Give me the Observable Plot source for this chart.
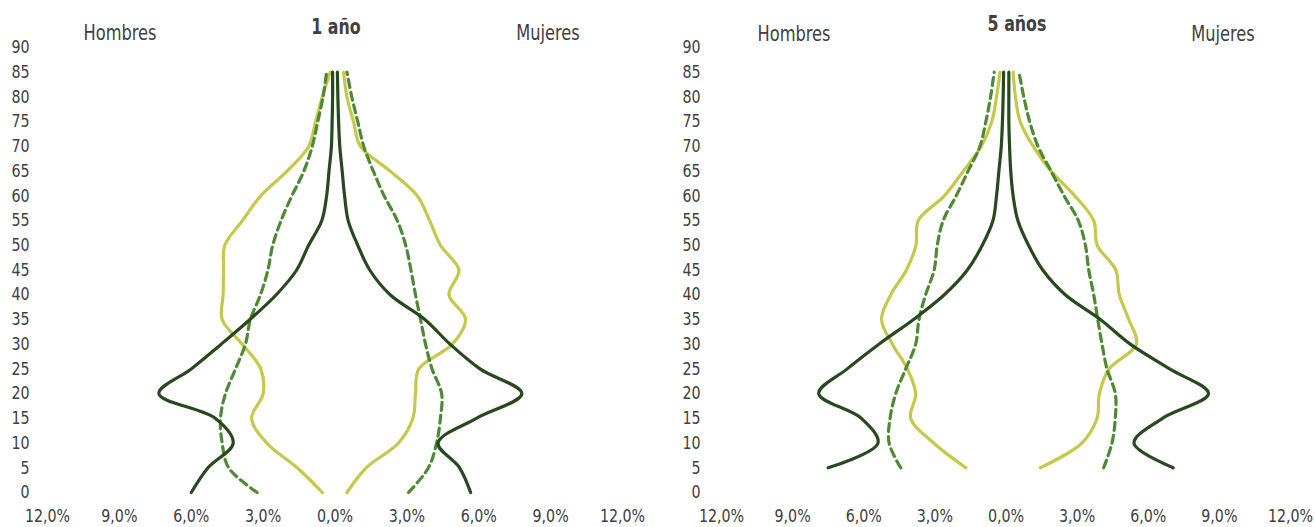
<!DOCTYPE html>
<html>
<head>
<meta charset="utf-8">
<script src="https://cdn.jsdelivr.net/npm/d3@7"></script>
<script src="https://cdn.jsdelivr.net/npm/@observablehq/plot@0.6"></script>
<style>
  html, body { margin: 0; padding: 0; background: #ffffff; }
  #wrap { position: relative; width: 1315px; height: 527px; overflow: hidden;
          font-family: "Liberation Sans Narrow", "DejaVu Sans Condensed", "Roboto", sans-serif; color: #404040; }
  .panel { position: absolute; top: 0; }
  .lbl { position: absolute; transform: translate(-50%, -50%) scaleX(0.82); white-space: nowrap; font-size: 22px; color: #404040; }
  .ttl { font-weight: bold; font-size: 22px; transform: translate(-50%, -50%) scaleX(0.8); }
</style>
</head>
<body>
<div id="wrap"></div>
<script>
// ---------- data ----------
const titles = ["1 año", "5 años"];
const sexLabels = ["Hombres", "Mujeres"];
const xTicks = [-12, -9, -6, -3, 0, 3, 6, 9, 12];
const yTicks = [0, 5, 10, 15, 20, 25, 30, 35, 40, 45, 50, 55, 60, 65, 70, 75, 80, 85, 90];

// Panel 1 (1 año): ages 0..85
const ages1 = [0, 5, 10, 15, 20, 25, 30, 35, 40, 45, 50, 55, 60, 65, 70, 75, 80, 85];
const darkHombres1   = [6.0, 5.3, 4.25, 5.0, 7.35, 6.0, 4.75, 3.55, 2.45, 1.6, 1.1, 0.55, 0.35, 0.25, 0.15, 0.12, 0.1, 0.1];
const lightHombres1  = [0.53, 1.58, 2.85, 3.48, 3.0, 3.1, 3.87, 4.71, 4.67, 4.65, 4.6, 3.86, 3.1, 2.0, 1.1, 0.81, 0.53, 0.2];
const dashHombres1   = [3.25, 4.44, 4.71, 4.78, 4.57, 4.15, 3.74, 3.53, 3.11, 2.8, 2.6, 2.25, 1.8, 1.3, 0.95, 0.72, 0.5, 0.35];
const darkMujeres1   = [5.66, 5.2, 4.3, 5.9, 7.8, 6.05, 4.8, 3.75, 2.3, 1.45, 0.95, 0.55, 0.4, 0.3, 0.2, 0.15, 0.12, 0.1];
const lightMujeres1  = [0.5, 1.3, 2.65, 3.25, 3.36, 3.5, 4.9, 5.45, 4.76, 5.17, 4.4, 3.95, 3.43, 2.3, 1.06, 0.77, 0.5, 0.36];
const dashMujeres1   = [3.07, 3.9, 4.24, 4.4, 4.45, 4.05, 3.78, 3.57, 3.36, 3.17, 2.95, 2.6, 2.05, 1.6, 1.2, 0.95, 0.7, 0.5];

// Panel 2 (5 años): ages 5..85
const ages2 = [5, 10, 15, 20, 25, 30, 35, 40, 45, 50, 55, 60, 65, 70, 75, 80, 85];
const darkHombres2   = [7.5, 5.4, 6.1, 7.9, 6.7, 5.36, 3.9, 2.6, 1.63, 1.0, 0.55, 0.4, 0.3, 0.2, 0.15, 0.12, 0.1];
const lightHombres2  = [1.7, 3.05, 4.02, 3.81, 4.16, 4.79, 5.25, 4.86, 4.2, 3.8, 3.7, 2.6, 1.8, 1.05, 0.6, 0.4, 0.25];
const dashHombres2   = [4.44, 4.93, 4.89, 4.65, 4.23, 3.81, 3.67, 3.39, 3.03, 2.9, 2.65, 2.1, 1.6, 1.1, 0.85, 0.65, 0.5];
const darkMujeres2   = [7.05, 5.4, 6.6, 8.54, 6.9, 5.24, 3.98, 2.5, 1.55, 0.95, 0.5, 0.3, 0.2, 0.15, 0.12, 0.12, 0.12];
const lightMujeres2  = [1.45, 3.2, 3.84, 3.94, 4.35, 5.5, 5.18, 4.78, 4.63, 3.85, 3.7, 2.9, 1.9, 1.15, 0.6, 0.4, 0.3];
const dashMujeres2   = [4.12, 4.47, 4.61, 4.61, 4.26, 4.05, 3.87, 3.7, 3.49, 3.35, 3.05, 2.45, 1.9, 1.35, 1.0, 0.75, 0.55];

// ---------- styles ----------
const FONT = '"Liberation Sans Narrow", "DejaVu Sans Condensed", Roboto, sans-serif';
const COLORS = { dark: "#264a1e", light: "#c5c84b", dash: "#4e8a33" };

function rowsFor(ages, hombres, mujeres, serie) {
  const out = [];
  ages.forEach((a, i) => out.push({ edad: a, pct: -hombres[i], sexo: "H", serie }));
  ages.forEach((a, i) => out.push({ edad: a, pct: mujeres[i], sexo: "M", serie }));
  return out;
}

function fmt(d) { return Math.abs(d).toFixed(1).replace(".", ",") + "%"; }

function makePanel(cfg) {
  const light = rowsFor(cfg.ages, cfg.lightH, cfg.lightM, "light");
  const dash = rowsFor(cfg.ages, cfg.dashH, cfg.dashM, "dash");
  const dark = rowsFor(cfg.ages, cfg.darkH, cfg.darkM, "dark");
  const svg = Plot.plot({
    width: cfg.width,
    height: 527,
    marginLeft: cfg.marginLeft,
    marginRight: cfg.marginRight,
    marginTop: 47,
    marginBottom: 35,
    style: { fontFamily: FONT, fontSize: "18px", color: "#404040", background: "#ffffff", overflow: "visible" },
    x: { domain: [-12, 12], ticks: xTicks, tickFormat: fmt, tickSize: 0, tickPadding: 17, label: null },
    y: { domain: [0, 90], ticks: yTicks, tickSize: 0, tickPadding: cfg.yPad, label: null },
    marks: [
      Plot.line(light, { x: "pct", y: "edad", z: "sexo", stroke: COLORS.light, strokeWidth: 3.2, curve: "catmull-rom" }),
      Plot.line(dash, { x: "pct", y: "edad", z: "sexo", stroke: COLORS.dash, strokeWidth: 3.2, strokeDasharray: "8,5", curve: "catmull-rom" }),
      Plot.line(dark, { x: "pct", y: "edad", z: "sexo", stroke: COLORS.dark, strokeWidth: 3.2, curve: "catmull-rom" })
    ]
  });
  // narrow the tick labels a little (condensed look), keeping their anchor point
  svg.querySelectorAll("text").forEach(t => {
    const tr = t.getAttribute("transform") || "";
    t.setAttribute("transform", tr + " scale(0.88,1)");
  });
  return svg;
}

const wrap = document.getElementById("wrap");

const p1 = makePanel({
  width: 657, marginLeft: 47, marginRight: 35, yPad: 18,
  ages: ages1,
  darkH: darkHombres1, darkM: darkMujeres1,
  lightH: lightHombres1, lightM: lightMujeres1,
  dashH: dashHombres1, dashM: dashMujeres1
});
p1.classList.add("panel");
p1.style.left = "0px";
wrap.appendChild(p1);

const p2 = makePanel({
  width: 655, marginLeft: 61, marginRight: 25, yPad: 21,
  ages: ages2,
  darkH: darkHombres2, darkM: darkMujeres2,
  lightH: lightHombres2, lightM: lightMujeres2,
  dashH: dashHombres2, dashM: dashMujeres2
});
p2.classList.add("panel");
p2.style.left = "660px";
wrap.appendChild(p2);

function addLabel(text, x, y, cls) {
  const d = document.createElement("div");
  d.className = "lbl" + (cls ? " " + cls : "");
  d.textContent = text;
  d.style.left = x + "px";
  d.style.top = y + "px";
  wrap.appendChild(d);
}
addLabel(titles[0], 336, 26, "ttl");
addLabel(sexLabels[0], 120, 32);
addLabel(sexLabels[1], 548, 32);
addLabel(titles[1], 1017, 23, "ttl");
addLabel(sexLabels[0], 794, 33);
addLabel(sexLabels[1], 1223, 33);
</script>
</body>
</html>
